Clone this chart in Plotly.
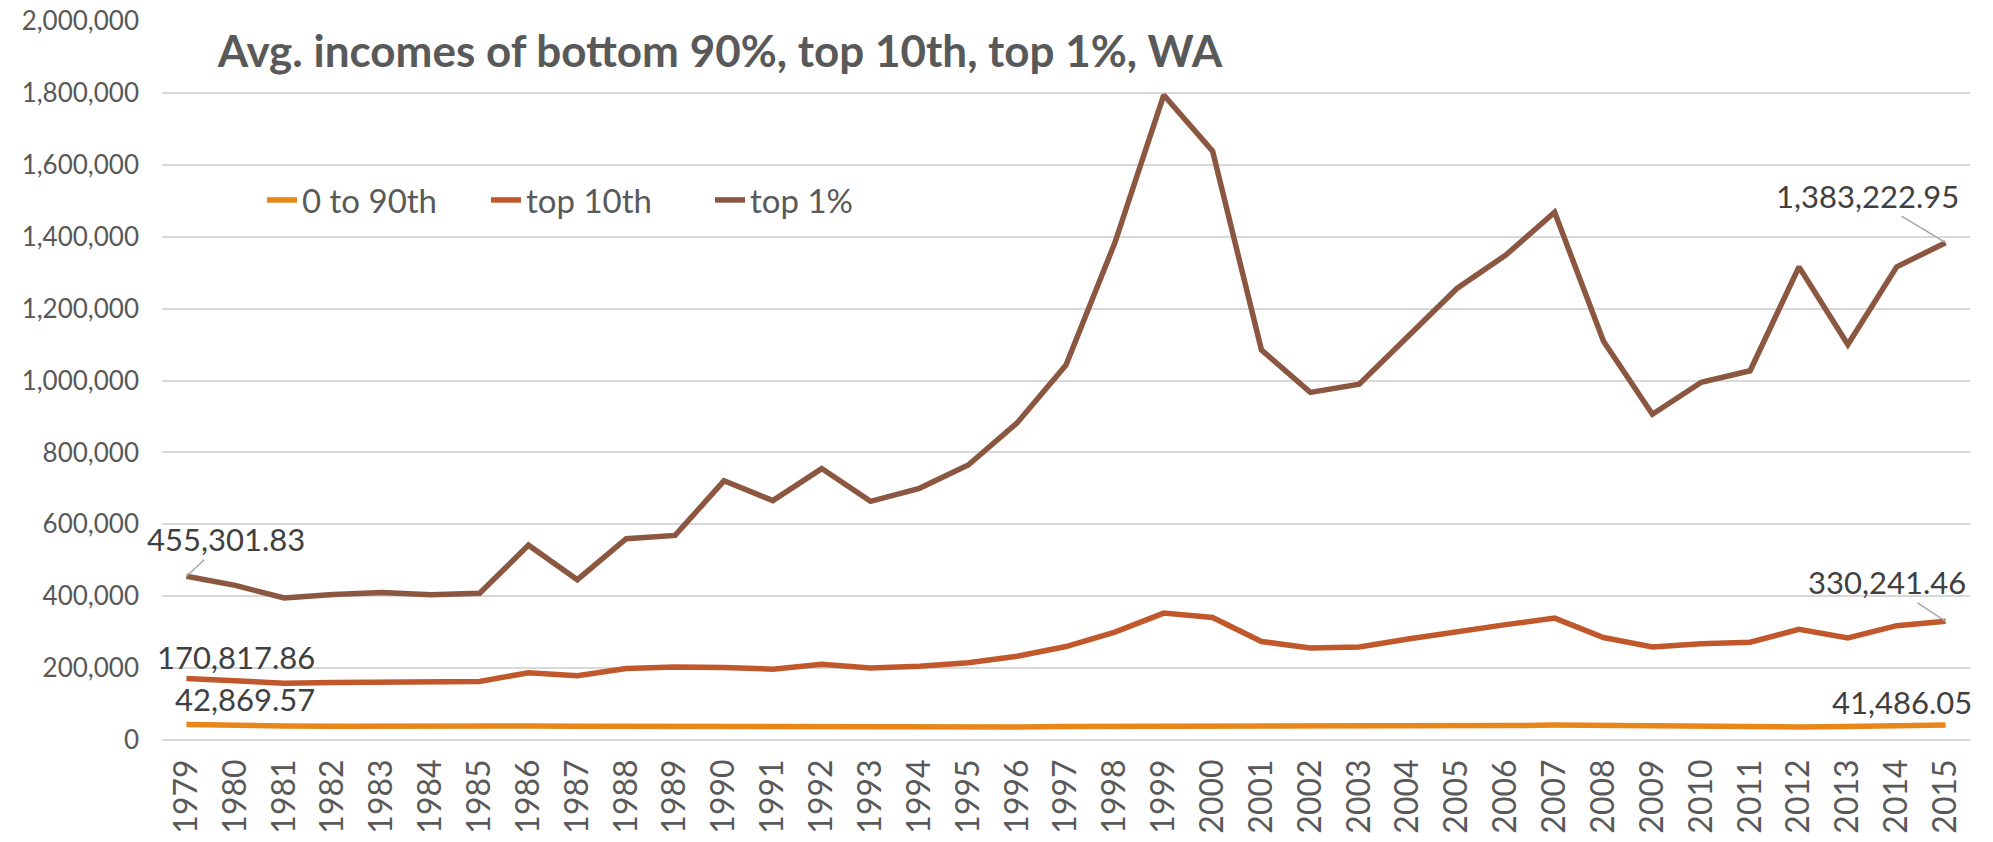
import plotly.graph_objects as go

years = ["1979", "1980", "1981", "1982", "1983", "1984", "1985", "1986", "1987", "1988",
         "1989", "1990", "1991", "1992", "1993", "1994", "1995", "1996", "1997", "1998",
         "1999", "2000", "2001", "2002", "2003", "2004", "2005", "2006", "2007", "2008",
         "2009", "2010", "2011", "2012", "2013", "2014", "2015"]

bottom90 = [42869.57, 39500, 39000, 38500, 39500, 38500, 38500, 39000, 38000, 37500,
            37500, 37000, 36000, 36000, 36000, 36000, 36000, 36500, 37500, 37500,
            37000, 38500, 38500, 37500, 37500, 38500, 39000, 40000, 41500, 40500,
            38000, 37000, 35500, 36500, 37500, 38500, 41486.05]

top10 = [170817.86, 163000, 158000, 160000, 161000, 161000, 163000, 187000, 179000, 199000,
         203000, 202000, 197000, 211000, 200000, 205000, 215000, 233000, 260000, 300000,
         353000, 341000, 274000, 256000, 259000, 281000, 302000, 321000, 339000, 285000,
         259000, 268000, 272000, 308000, 284000, 318000, 330241.46]

top1 = [455301.83, 430000, 395000, 405000, 410000, 404000, 408000, 542000, 446000, 560000,
        569000, 721000, 666000, 755000, 664000, 700000, 765000, 882000, 1043000, 1383000,
        1794000, 1638000, 1085000, 967000, 990000, 1124000, 1256000, 1349000, 1468000, 1109000,
        906000, 995000, 1027000, 1316000, 1100000, 1316000, 1383222.95]

series_names = ["0 to 90th", "top 10th", "top 1%"]
series_colors = ["#E8861A", "#C0582B", "#8B5740"]
title_text = "Avg. incomes of bottom 90%, top 10th, top 1%, WA"
y_ticks = [0, 200000, 400000, 600000, 800000, 1000000, 1200000, 1400000, 1600000, 1800000, 2000000]

x_vals = [int(y) for y in years]

fig = go.Figure()
for name, vals, col in zip(series_names, [bottom90, top10, top1], series_colors):
    fig.add_trace(go.Scatter(x=x_vals, y=vals, mode="lines", name=name,
                             line=dict(color=col, width=5.5), cliponaxis=False))

label_font = dict(family="Lato", size=31, color="#404040")
lead = dict(showarrow=True, arrowhead=0, arrowwidth=1.5, arrowcolor="#A6A6A6", standoff=0,
            font=label_font, xref="x", yref="y")
plain = dict(showarrow=False, font=label_font, xref="x", yref="y")

annotations = [
    dict(x=x_vals[0], y=top1[0], text=f"{top1[0]:,.2f}", ax=40, ay=-37, **lead),
    dict(x=x_vals[-1], y=top1[-1], text=f"{top1[-1]:,.2f}", ax=-78, ay=-47, **lead),
    dict(x=x_vals[-1], y=top10[-1], text=f"{top10[-1]:,.2f}", ax=-59, ay=-39, **lead),
    dict(x=x_vals[0], y=top10[0], text=f"{top10[0]:,.2f}", xshift=50, yshift=22, **plain),
    dict(x=x_vals[0], y=bottom90[0], text=f"{bottom90[0]:,.2f}", xshift=59, yshift=26, **plain),
    dict(x=x_vals[-1], y=bottom90[-1], text=f"{bottom90[-1]:,.2f}", xshift=-44, yshift=23, **plain),
]

fig.update_layout(
    width=1993, height=842,
    margin=dict(l=162, r=23, t=21, b=102, autoexpand=False),
    paper_bgcolor="white", plot_bgcolor="white",
    title=dict(text=title_text, x=720 / 1993, xanchor="center", xref="container",
               y=1 - 52 / 842, yanchor="middle", yref="container",
               font=dict(family="Lato", size=44, color="#595959", weight=700)),
    showlegend=True,
    legend=dict(orientation="h", x=(262 - 162) / 1808, xanchor="left",
                y=(740 - 200) / 719, yanchor="middle",
                font=dict(family="Lato", size=33, color="#595959"),
                bgcolor="rgba(0,0,0,0)", entrywidth=179, tracegroupgap=0),
    annotations=annotations,
    xaxis=dict(range=[1978.5, 2015.5], tickmode="array", tickvals=x_vals, ticktext=years,
               tickangle=-90, showgrid=False, zeroline=False, showline=False, ticks="",
               tickfont=dict(family="Lato", size=32, color="#595959"),
               ticklabelstandoff=12, automargin=False, fixedrange=True),
    yaxis=dict(range=[0, 2000000], tickmode="array", tickvals=y_ticks,
               ticktext=[f"{v:,}" for v in y_ticks],
               showgrid=True, gridcolor="#D9D9D9", gridwidth=2,
               zeroline=True, zerolinecolor="#D9D9D9", zerolinewidth=2,
               showline=False, ticks="",
               tickfont=dict(family="Lato", size=26, color="#595959"),
               ticklabelstandoff=22, automargin=False, fixedrange=True),
)

fig.write_html("out.html", config={"displayModeBar": False},
               post_script="document.body.style.margin='0';document.body.style.overflow='hidden';")
